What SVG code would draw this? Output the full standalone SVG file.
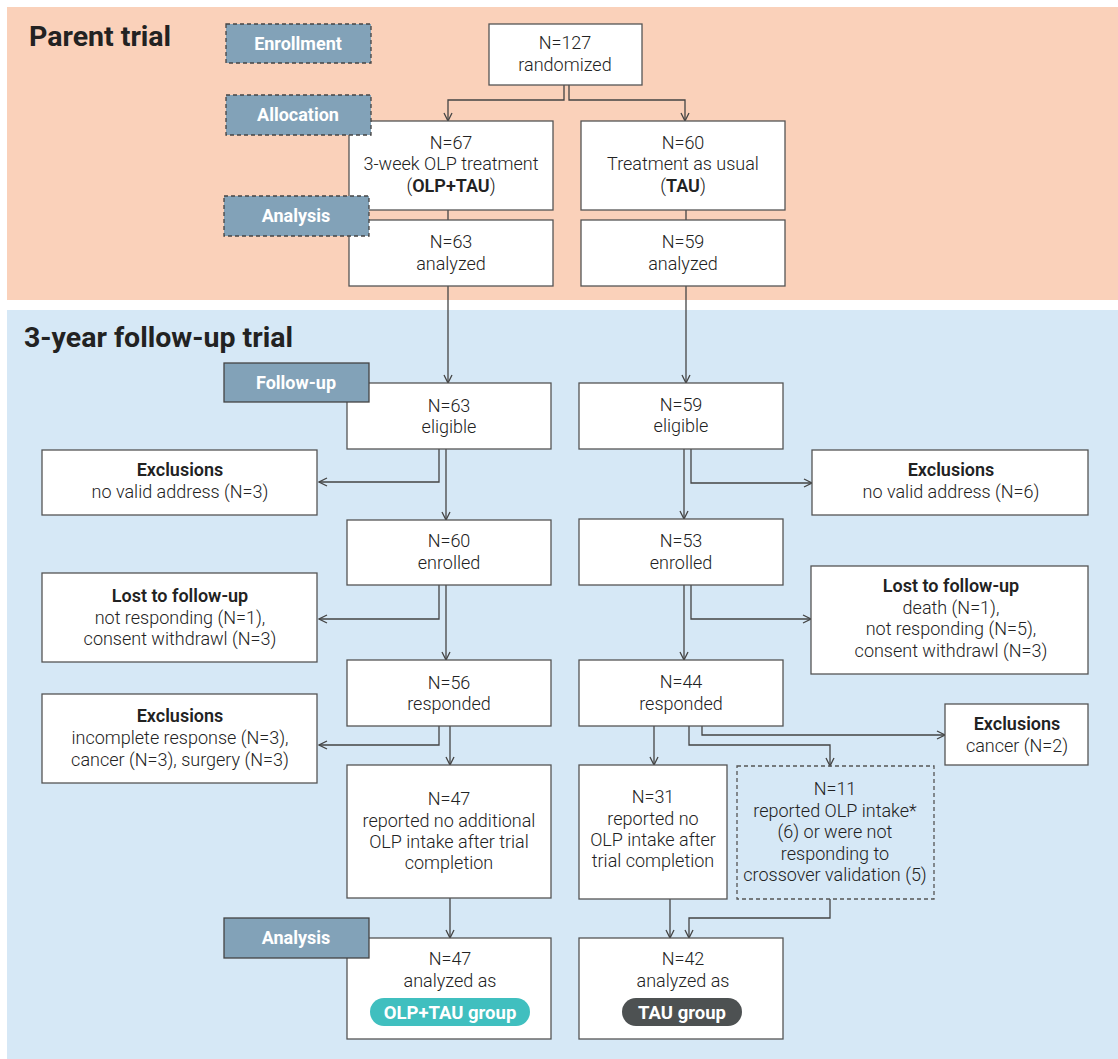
<svg xmlns="http://www.w3.org/2000/svg" width="1118" height="1059" viewBox="0 0 1118 1059">
<defs>
<style>
.bg{stroke:none}
.box{fill:#fff;stroke:#555;stroke-width:1.3}
.dbox{fill:none;stroke:#555;stroke-width:1.3;stroke-dasharray:4 3}
.lab{fill:#82A2B8;stroke:#444;stroke-width:1.3}
.labd{fill:#82A2B8;stroke:#444;stroke-width:1.3;stroke-dasharray:4 3}
.t{font-family:Roboto,"Liberation Sans",sans-serif;font-size:18px;fill:#222;text-anchor:middle;font-weight:300}
.b{font-weight:600}
.lt{font-family:Roboto,"Liberation Sans",sans-serif;font-size:18px;fill:#fff;text-anchor:middle;font-weight:700}
.title{font-family:Roboto,"Liberation Sans",sans-serif;font-size:28.5px;fill:#222;font-weight:700}
.c{fill:none;stroke:#444;stroke-width:1.3}
.pt{font-family:Roboto,"Liberation Sans",sans-serif;font-size:18.5px;fill:#fff;text-anchor:middle;font-weight:700}
</style>
<marker id="ah" viewBox="-1 -5 10 10" refX="8" refY="0" markerWidth="10" markerHeight="10" markerUnits="userSpaceOnUse" orient="auto">
<path d="M0,-4 L8,0 L0,4" fill="none" stroke="#444" stroke-width="1.3"/>
</marker>
</defs>
<rect width="1118" height="1059" fill="#fff"/>
<rect class="bg" x="7" y="7" width="1111" height="293" fill="#FAD1BA"/>
<rect class="bg" x="7" y="310" width="1111" height="749" fill="#D6E8F6"/>
<text class="title" x="29" y="46">Parent trial</text>
<text class="title" x="24" y="347">3-year follow-up trial</text>

<g id="connectors">
<path class="c" d="M564,85 V100 H448 V121" marker-end="url(#ah)"/>
<path class="c" d="M569,85 V100 H685 V121" marker-end="url(#ah)"/>
<path class="c" d="M448,210 V220"/>
<path class="c" d="M686,210 V220"/>
<path class="c" d="M448,286 V383" marker-end="url(#ah)"/>
<path class="c" d="M686,286 V383" marker-end="url(#ah)"/>
<path class="c" d="M439,449 V482 H319" marker-end="url(#ah)"/>
<path class="c" d="M446,449 V520" marker-end="url(#ah)"/>
<path class="c" d="M684,449 V519" marker-end="url(#ah)"/>
<path class="c" d="M691,449 V483 H812" marker-end="url(#ah)"/>
<path class="c" d="M439,585 V619 H319" marker-end="url(#ah)"/>
<path class="c" d="M446,585 V660" marker-end="url(#ah)"/>
<path class="c" d="M684,585 V660" marker-end="url(#ah)"/>
<path class="c" d="M691,585 V619 H811" marker-end="url(#ah)"/>
<path class="c" d="M439,726 V745 H319" marker-end="url(#ah)"/>
<path class="c" d="M450,726 V765" marker-end="url(#ah)"/>
<path class="c" d="M654,726 V765" marker-end="url(#ah)"/>
<path class="c" d="M689,726 V745 H830 V766" marker-end="url(#ah)"/>
<path class="c" d="M702,726 V735 H945" marker-end="url(#ah)"/>
<path class="c" d="M450,898 V938" marker-end="url(#ah)"/>
<path class="c" d="M670,899 V938" marker-end="url(#ah)"/>
<path class="c" d="M830,899 V918 H689 V938" marker-end="url(#ah)"/>
</g>

<g id="randomized">
<rect class="box" x="489" y="24" width="153" height="61"/>
<text class="t" x="565" y="49">N=127</text>
<text class="t" x="565" y="71">randomized</text>
</g>
<g id="olp-alloc">
<rect class="box" x="349" y="121" width="204" height="89"/>
<text class="t" x="451" y="149">N=67</text>
<text class="t" x="451" y="170">3-week OLP treatment</text>
<text class="t" x="451" y="192">(<tspan class="b">OLP+TAU</tspan>)</text>
</g>
<g id="tau-alloc">
<rect class="box" x="581" y="121" width="204" height="89"/>
<text class="t" x="683" y="149">N=60</text>
<text class="t" x="683" y="170">Treatment as usual</text>
<text class="t" x="683" y="192">(<tspan class="b">TAU</tspan>)</text>
</g>
<g id="olp-analyzed">
<rect class="box" x="349" y="220" width="204" height="66"/>
<text class="t" x="451" y="248">N=63</text>
<text class="t" x="451" y="270">analyzed</text>
</g>
<g id="tau-analyzed">
<rect class="box" x="581" y="220" width="204" height="66"/>
<text class="t" x="683" y="248">N=59</text>
<text class="t" x="683" y="270">analyzed</text>
</g>

<g id="olp-eligible">
<rect class="box" x="347" y="383" width="204" height="66"/>
<text class="t" x="449" y="412">N=63</text>
<text class="t" x="449" y="433">eligible</text>
</g>
<g id="tau-eligible">
<rect class="box" x="579" y="383" width="204" height="66"/>
<text class="t" x="681" y="411">N=59</text>
<text class="t" x="681" y="432">eligible</text>
</g>
<g id="olp-excl1">
<rect class="box" x="42" y="450" width="275" height="65"/>
<text class="t b" x="180" y="476">Exclusions</text>
<text class="t" x="180" y="498">no valid address (N=3)</text>
</g>
<g id="tau-excl1">
<rect class="box" x="812" y="450" width="276" height="65"/>
<text class="t b" x="951" y="476">Exclusions</text>
<text class="t" x="951" y="498">no valid address (N=6)</text>
</g>
<g id="olp-enrolled">
<rect class="box" x="347" y="520" width="204" height="65"/>
<text class="t" x="449" y="547">N=60</text>
<text class="t" x="449" y="569">enrolled</text>
</g>
<g id="tau-enrolled">
<rect class="box" x="579" y="519" width="204" height="66"/>
<text class="t" x="681" y="547">N=53</text>
<text class="t" x="681" y="569">enrolled</text>
</g>
<g id="olp-lost">
<rect class="box" x="42" y="573" width="275" height="89"/>
<text class="t b" x="180" y="602">Lost to follow-up</text>
<text class="t" x="180" y="624">not responding (N=1),</text>
<text class="t" x="180" y="645">consent withdrawl (N=3)</text>
</g>
<g id="tau-lost">
<rect class="box" x="811" y="566" width="277" height="108"/>
<text class="t b" x="951" y="592">Lost to follow-up</text>
<text class="t" x="951" y="614">death (N=1),</text>
<text class="t" x="951" y="635">not responding (N=5),</text>
<text class="t" x="951" y="657">consent withdrawl (N=3)</text>
</g>
<g id="olp-responded">
<rect class="box" x="347" y="660" width="204" height="66"/>
<text class="t" x="449" y="689">N=56</text>
<text class="t" x="449" y="710">responded</text>
</g>
<g id="tau-responded">
<rect class="box" x="579" y="660" width="204" height="66"/>
<text class="t" x="681" y="688">N=44</text>
<text class="t" x="681" y="710">responded</text>
</g>
<g id="olp-excl2">
<rect class="box" x="42" y="694" width="275" height="89"/>
<text class="t b" x="180" y="722">Exclusions</text>
<text class="t" x="180" y="744">incomplete response (N=3),</text>
<text class="t" x="180" y="766">cancer (N=3), surgery (N=3)</text>
</g>
<g id="tau-excl2">
<rect class="box" x="945" y="704" width="143" height="61"/>
<text class="t b" x="1017" y="730">Exclusions</text>
<text class="t" x="1017" y="752">cancer (N=2)</text>
</g>
<g id="olp-noolp">
<rect class="box" x="347" y="765" width="204" height="133"/>
<text class="t" x="449" y="805">N=47</text>
<text class="t" x="449" y="827">reported no additional</text>
<text class="t" x="449" y="848">OLP intake after trial</text>
<text class="t" x="449" y="869">completion</text>
</g>
<g id="tau-noolp">
<rect class="box" x="579" y="765" width="148" height="134"/>
<text class="t" x="653" y="803">N=31</text>
<text class="t" x="653" y="825">reported no</text>
<text class="t" x="653" y="846">OLP intake after</text>
<text class="t" x="653" y="867">trial completion</text>
</g>
<g id="tau-crossover">
<rect class="dbox" x="737" y="766" width="197" height="133"/>
<text class="t" x="835" y="795">N=11</text>
<text class="t" x="835" y="817">reported OLP intake*</text>
<text class="t" x="835" y="838">(6) or were not</text>
<text class="t" x="835" y="860">responding to</text>
<text class="t" x="835" y="881">crossover validation (5)</text>
</g>
<g id="olp-final">
<rect class="box" x="347" y="938" width="204" height="101"/>
<text class="t" x="450" y="965">N=47</text>
<text class="t" x="450" y="987">analyzed as</text>
<rect x="370" y="998" width="160" height="28" rx="14" fill="#40BFBF"/>
<text class="pt" x="450" y="1018.5">OLP+TAU group</text>
</g>
<g id="tau-final">
<rect class="box" x="579" y="938" width="204" height="101"/>
<text class="t" x="683" y="965">N=42</text>
<text class="t" x="683" y="987">analyzed as</text>
<rect x="622" y="998" width="120" height="28" rx="14" fill="#4D5152"/>
<text class="pt" x="682" y="1018.5">TAU group</text>
</g>

<g id="label-enrollment">
<rect class="labd" x="226" y="24" width="145" height="39"/>
<text class="lt" x="298" y="50">Enrollment</text>
</g>
<g id="label-allocation">
<rect class="labd" x="226" y="95" width="145" height="40"/>
<text class="lt" x="298" y="121">Allocation</text>
</g>
<g id="label-analysis1">
<rect class="labd" x="224" y="196" width="145" height="40"/>
<text class="lt" x="296" y="222">Analysis</text>
</g>
<g id="label-followup">
<rect class="lab" x="224" y="363" width="145" height="39"/>
<text class="lt" x="296" y="389">Follow-up</text>
</g>
<g id="label-analysis2">
<rect class="lab" x="224" y="918" width="145" height="40"/>
<text class="lt" x="296" y="944">Analysis</text>
</g>
</svg>
